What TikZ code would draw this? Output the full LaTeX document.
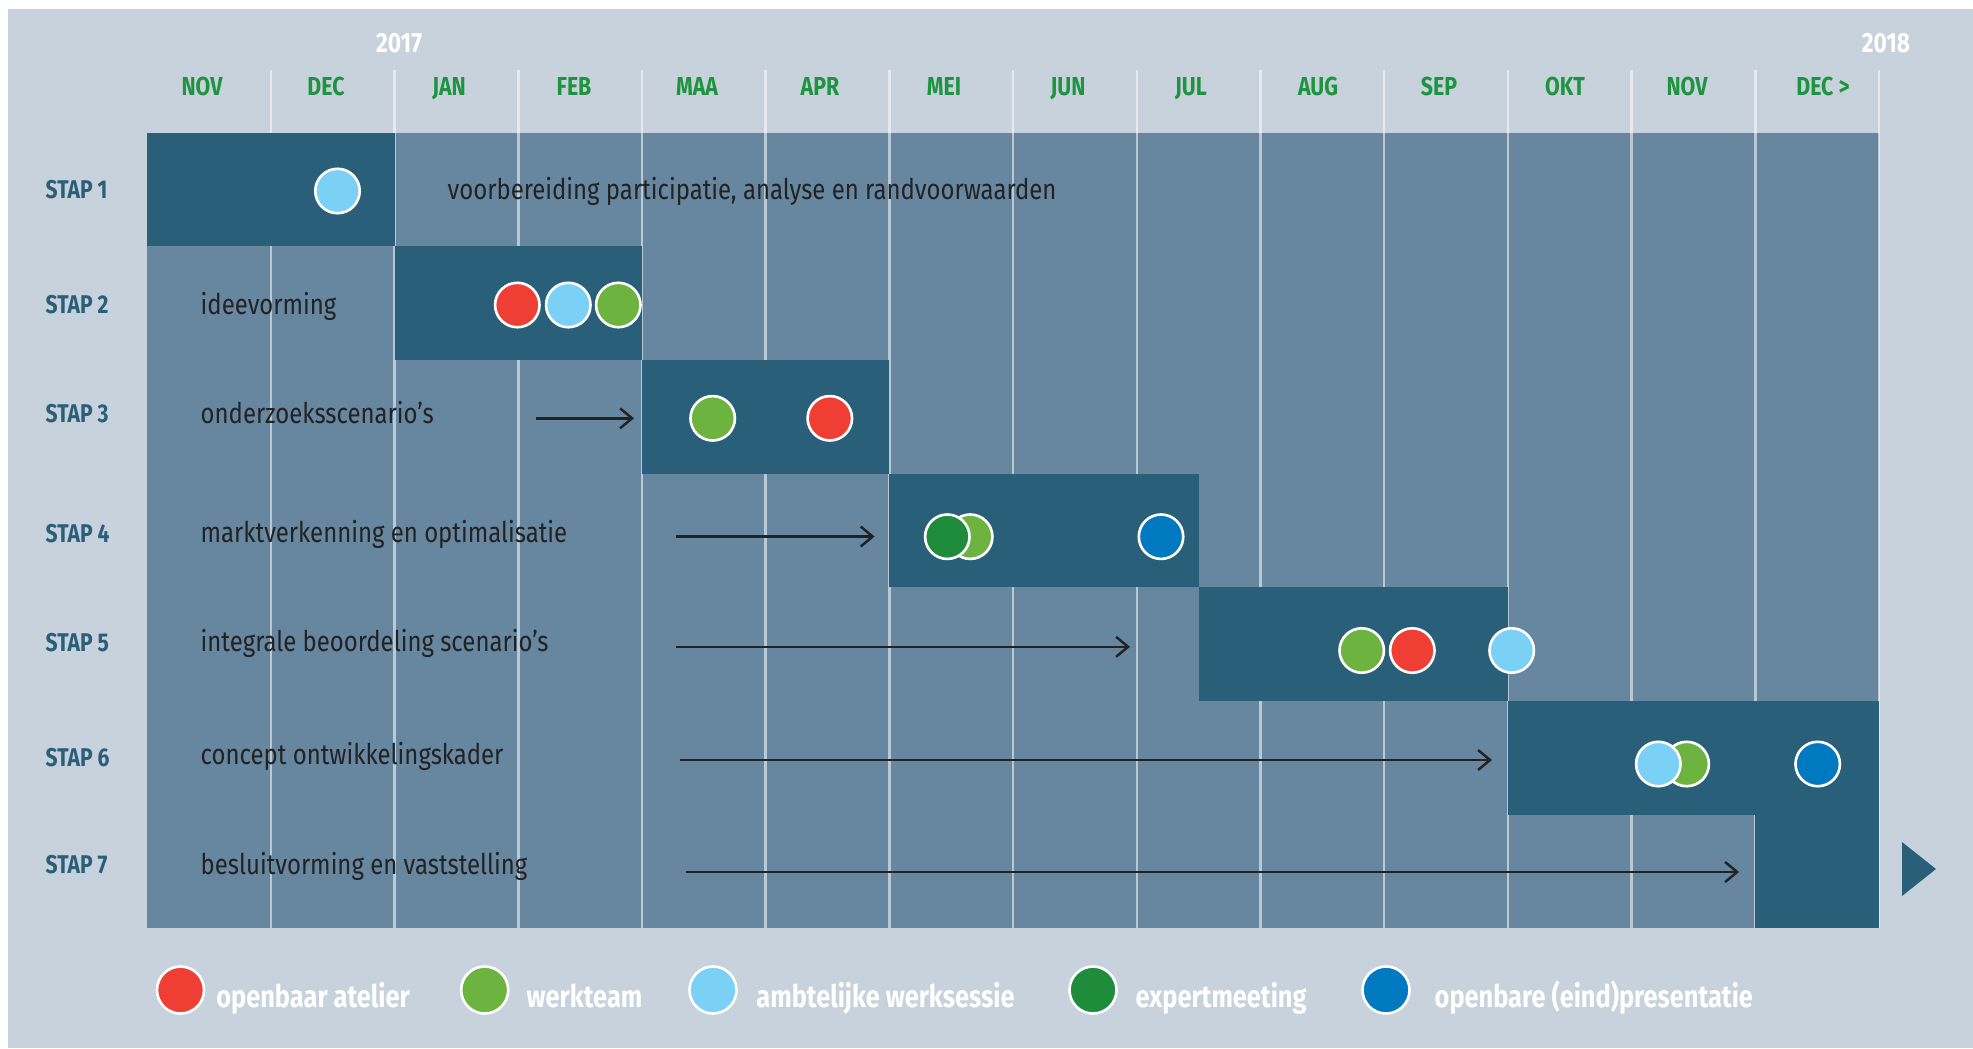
\documentclass[tikz,border=0pt]{standalone}
\usepackage{fontspec}
\setmainfont{Fira Sans}[FakeStretch=0.82]
\newfontfamily\stepfont{Fira Sans}[FakeStretch=0.84]
\usetikzlibrary{arrows.meta}

\definecolor{bgcol}{HTML}{C8D2DC}
\definecolor{cellcol}{HTML}{6787A0}
\definecolor{blockcol}{HTML}{2A5F7A}
\definecolor{monthcol}{HTML}{1E9440}
\definecolor{txtcol}{HTML}{222222}
\definecolor{dotred}{HTML}{EF3F35}
\definecolor{dotgreen}{HTML}{6DB33F}
\definecolor{dotlight}{HTML}{7BD0F6}
\definecolor{dotdark}{HTML}{1E8C3B}
\definecolor{dotblue}{HTML}{0079C1}

\tikzset{
  monthlabel/.style={anchor=base, text=monthcol, inner sep=0, font=\bfseries\fontsize{7.4}{8}\selectfont},
  yearlabel/.style={anchor=base, text=white, inner sep=0, font=\bfseries\fontsize{7.9}{8}\selectfont},
  staplabel/.style={anchor=base west, text=blockcol, inner sep=0, font=\bfseries\fontsize{7.3}{8}\selectfont},
  steptext/.style={anchor=base west, text=txtcol, inner sep=0, font=\stepfont\fontsize{8.1}{9}\selectfont},
  sepline/.style={white, opacity=0.55, line width=0.7pt},
  stepbar/.style={fill=blockcol},
  dot/.style={circle, draw=white, line width=0.75pt, minimum size=0.444cm, inner sep=0},
  legdot/.style={dot, minimum size=0.47cm},
  legtext/.style={anchor=base west, text=white, inner sep=0, font=\bfseries\fontsize{8.8}{10}\selectfont},
  flow/.style={->, draw=txtcol, line width=0.7pt},
}

\begin{document}
\begin{tikzpicture}[x=0.01cm,y=-0.01cm,>={Straight Barb[length=1.2mm,width=2mm]}]

% Canvas
\useasboundingbox (0,0) rectangle (1973,1048);
\fill[white] (0,0) rectangle (1973,1048);
\fill[bgcol] (8,9) rectangle (1973,1048);

% Grid area
\fill[cellcol] (147.2,132.5) rectangle (1879,928.4);

% Month separators
\draw[sepline] (270.9,70) -- (270.9,928.4);
\draw[sepline] (394.6,70) -- (394.6,928.4);
\draw[sepline] (518.3,70) -- (518.3,928.4);
\draw[sepline] (642.0,70) -- (642.0,928.4);
\draw[sepline] (765.7,70) -- (765.7,928.4);
\draw[sepline] (889.4,70) -- (889.4,928.4);
\draw[sepline] (1013.1,70) -- (1013.1,928.4);
\draw[sepline] (1136.8,70) -- (1136.8,928.4);
\draw[sepline] (1260.5,70) -- (1260.5,928.4);
\draw[sepline] (1384.2,70) -- (1384.2,928.4);
\draw[sepline] (1507.9,70) -- (1507.9,928.4);
\draw[sepline] (1631.6,70) -- (1631.6,928.4);
\draw[sepline] (1755.3,70) -- (1755.3,928.4);
\draw[sepline] (1879.0,70) -- (1879.0,928.4);

% Step bars
\fill[stepbar] (147.2,132.5) rectangle (394.6,246.2);
\fill[stepbar] (394.6,246.2) rectangle (642.0,359.9);
\fill[stepbar] (642.0,359.9) rectangle (889.4,473.6);
\fill[stepbar] (889.4,473.6) rectangle (1198.6,587.3);
\fill[stepbar] (1198.6,587.3) rectangle (1507.9,701.0);
\fill[stepbar] (1507.9,701.0) rectangle (1879.0,814.7);
\fill[stepbar] (1755.3,814.7) rectangle (1879.0,928.4);

% Years
\node[yearlabel] (y17) at (399,52) {2017};
\node[yearlabel] (y18) at (1886,52) {2018};

% Months
\node[monthlabel] (m1) at (202,95) {NOV};
\node[monthlabel] (m2) at (326,95) {DEC};
\node[monthlabel] (m3) at (449,95) {JAN};
\node[monthlabel] (m4) at (574,95) {FEB};
\node[monthlabel] (m5) at (697,95) {MAA};
\node[monthlabel] (m6) at (820,95) {APR};
\node[monthlabel] (m7) at (944,95) {MEI};
\node[monthlabel] (m8) at (1068,95) {JUN};
\node[monthlabel] (m9) at (1191,95) {JUL};
\node[monthlabel] (m10) at (1318,95) {AUG};
\node[monthlabel] (m11) at (1439,95) {SEP};
\node[monthlabel] (m12) at (1565,95) {OKT};
\node[monthlabel] (m13) at (1687,95) {NOV};
\node[monthlabel] (m14) at (1823,95) {DEC >};

% Step names
\node[staplabel] (s1) at (45,198.5) {STAP 1};
\node[staplabel] (s2) at (45,313) {STAP 2};
\node[staplabel] (s3) at (45,422.5) {STAP 3};
\node[staplabel] (s4) at (45,542) {STAP 4};
\node[staplabel] (s5) at (45,651.5) {STAP 5};
\node[staplabel] (s6) at (45,766) {STAP 6};
\node[staplabel] (s7) at (45,873) {STAP 7};

% Step descriptions
\node[steptext] (t1) at (447,199) {voorbereiding participatie, analyse en randvoorwaarden};
\node[steptext] (t2) at (200,314) {ideevorming};
\node[steptext] (t3) at (200,423) {onderzoeksscenario’s};
\node[steptext] (t4) at (200,542) {marktverkenning en optimalisatie};
\node[steptext] (t5) at (200,651) {integrale beoordeling scenario’s};
\node[steptext] (t6) at (200,764) {concept ontwikkelingskader};
\node[steptext] (t7) at (200,874) {besluitvorming en vaststelling};

% Lead-in arrows
\coordinate (a3s) at (536,418.3);
\coordinate (a3e) at (634,418.3);
\coordinate (a4s) at (675.5,536.5);
\coordinate (a4e) at (874.6,536.5);
\coordinate (a5s) at (675.7,646.8);
\coordinate (a5e) at (1130,646.8);
\coordinate (a6s) at (679.5,760);
\coordinate (a6e) at (1492,760);
\coordinate (a7s) at (685.8,872);
\coordinate (a7e) at (1739,872);
\draw[flow] (a3s) -- (a3e);
\draw[flow] (a4s) -- (a4e);
\draw[flow] (a5s) -- (a5e);
\draw[flow] (a6s) -- (a6e);
\draw[flow] (a7s) -- (a7e);

% Meetings
\node[dot, fill=dotlight] (d1) at (337.5,191) {};
\node[dot, fill=dotred] (d2a) at (517.3,305) {};
\node[dot, fill=dotlight] (d2b) at (568.3,305) {};
\node[dot, fill=dotgreen] (d2c) at (618.3,305) {};
\node[dot, fill=dotgreen] (d3a) at (712.7,418.3) {};
\node[dot, fill=dotred] (d3b) at (829.8,418.3) {};
\node[dot, fill=dotgreen] (d4b) at (970.2,536.7) {};
\node[dot, fill=dotdark] (d4a) at (947.3,536.7) {};
\node[dot, fill=dotblue] (d4c) at (1161,536.7) {};
\node[dot, fill=dotgreen] (d5a) at (1361.7,650.5) {};
\node[dot, fill=dotred] (d5b) at (1412.3,650.5) {};
\node[dot, fill=dotlight] (d5c) at (1511.7,650.5) {};
\node[dot, fill=dotgreen] (d6b) at (1686.7,764) {};
\node[dot, fill=dotlight] (d6a) at (1658.3,764) {};
\node[dot, fill=dotblue] (d6c) at (1817.7,764) {};

% Continuation mark
\fill[blockcol] (1902,842) -- (1936,869) -- (1902,896) -- cycle;

% Legend
\node[legdot, fill=dotred] (l1) at (180.5,990) {};
\node[legtext] (lt1) at (215.6,1007) {openbaar atelier};
\node[legdot, fill=dotgreen] (l2) at (484.7,990) {};
\node[legtext] (lt2) at (526,1007) {werkteam};
\node[legdot, fill=dotlight] (l3) at (713,990) {};
\node[legtext] (lt3) at (755.7,1007) {ambtelijke werksessie};
\node[legdot, fill=dotdark] (l4) at (1093,990) {};
\node[legtext] (lt4) at (1135,1007) {expertmeeting};
\node[legdot, fill=dotblue] (l5) at (1386,990) {};
\node[legtext] (lt5) at (1434,1007) {openbare (eind)presentatie};

\end{tikzpicture}
\end{document}
